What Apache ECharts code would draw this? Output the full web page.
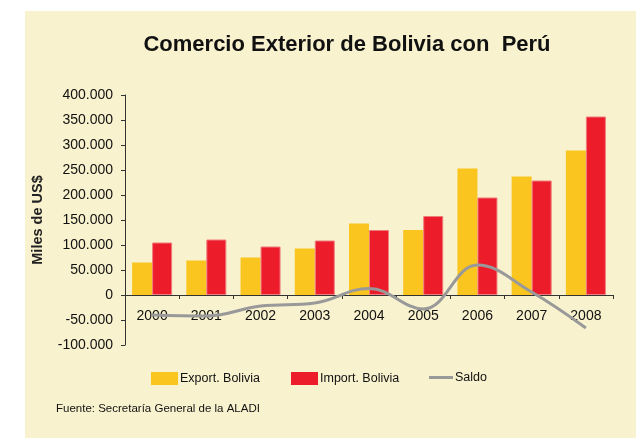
<!DOCTYPE html>
<html>
<head>
<meta charset="utf-8">
<script src="https://cdn.jsdelivr.net/npm/echarts@6/dist/echarts.min.js"></script>
<style>
    html, body { margin: 0; padding: 0; background: #fff; }
    #chart { width: 636px; height: 438px; }
</style>
</head>
<body>
<div id="chart"></div>
<script>
    // años y valores en miles de US$
    const years = ['2000', '2001', '2002', '2003', '2004', '2005', '2006', '2007', '2008'];
    const exportBolivia = [65000, 69000, 75000, 93000, 143000, 130000, 253000, 237000, 289000];
    const importBolivia = [105000, 111000, 97000, 109000, 130000, 158000, 195000, 229000, 357000];
    const saldo = [-40000, -42000, -22000, -16000, 13000, -28000, 60000, 6000, -66000];

    const font = 'Liberation Sans, Arial, sans-serif';

    function fmt(v) {
        // 400000 -> 400.000
        let s = Math.abs(v).toString().replace(/\B(?=(\d{3})+(?!\d))/g, '.');
        return (v < 0 ? '-' : '') + s;
    }

    function legendAt(name, x, y, w, h) {
        return {
            data: [name], left: x, top: y, padding: 0,
            itemWidth: w, itemHeight: h, itemGap: 0, icon: 'rect',
            itemStyle: { borderWidth: 0 },
            textStyle: { fontSize: 12.5, color: '#111', padding: [0, 0, 0, -3] }
        };
    }

    let chart = echarts.init(document.getElementById('chart'));
    let option = {
        animation: false,
        textStyle: { fontFamily: font },
        graphic: [
            {
                type: 'rect', z: -10, silent: true,
                shape: { x: 25, y: 11, width: 611, height: 427 },
                style: { fill: '#F8F2CE' }
            },
            {
                type: 'text', left: 56, top: 403,
                style: { text: 'Fuente: Secretaría General de la ALADI', fontSize: 11.5, fill: '#111', fontFamily: font }
            }
        ],
        title: {
            text: 'Comercio Exterior de Bolivia con  Perú',
            left: 342, top: 29, textAlign: 'center',
            textStyle: { fontSize: 22, fontWeight: 'bold', color: '#111', fontFamily: font }
        },
        legend: [
            legendAt('Export. Bolivia', 151, 372, 27, 13),
            legendAt('Import. Bolivia', 291, 372, 27, 13),
            legendAt('Saldo', 429, 371, 24, 3)
        ],
        grid: { left: 125, right: 23, top: 95, bottom: 93 },
        xAxis: {
            type: 'category',
            data: years,
            offset: -50,
            axisLine: { onZero: false, lineStyle: { color: '#333', width: 1 } },
            axisTick: { show: true, length: 4, lineStyle: { color: '#333' } },
            axisLabel: { fontSize: 14, color: '#111', margin: 14 }
        },
        yAxis: {
            type: 'value',
            min: -100000, max: 400000, interval: 50000,
            name: 'Miles de US$',
            nameLocation: 'middle',
            nameGap: 80,
            nameTextStyle: { fontSize: 14.5, fontWeight: 'bold', color: '#222' },
            axisLine: { show: true, lineStyle: { color: '#333' } },
            axisTick: { show: true, length: 4, lineStyle: { color: '#333' } },
            splitLine: { show: false },
            axisLabel: { fontSize: 14, color: '#111', margin: 12, formatter: fmt }
        },
        series: [
            {
                name: 'Export. Bolivia', type: 'bar', data: exportBolivia,
                barWidth: 20, barGap: '0%',
                itemStyle: { color: '#F9C51E' }
            },
            {
                name: 'Import. Bolivia', type: 'bar', data: importBolivia,
                barWidth: 20,
                itemStyle: { color: '#ED1C2A', borderColor: '#F07C7C', borderWidth: 1 }
            },
            {
                name: 'Saldo', type: 'line', data: saldo,
                smooth: 0.4, symbol: 'none',
                lineStyle: { color: '#999', width: 3 },
                itemStyle: { color: '#999' },
                z: 3
            }
        ]
    };
    chart.setOption(option);
</script>
</body>
</html>
